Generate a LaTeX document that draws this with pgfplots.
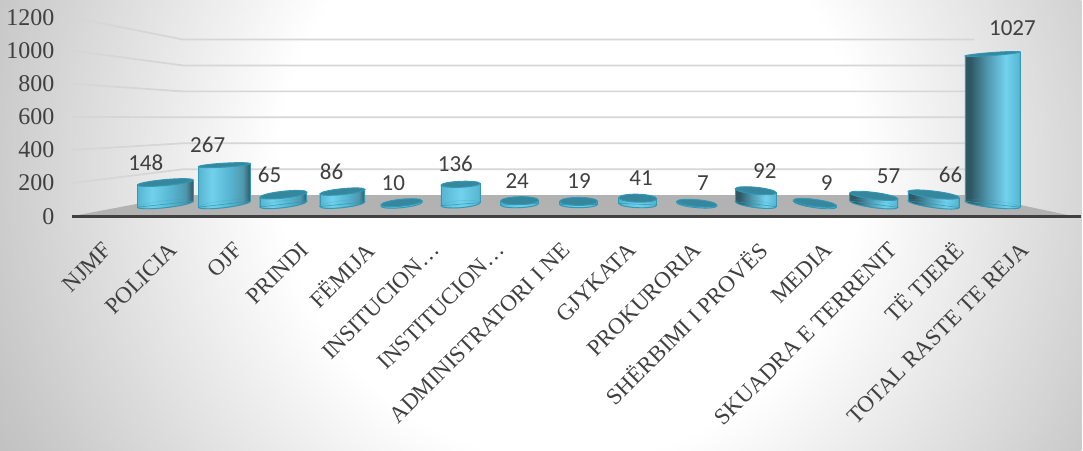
\documentclass[border=0pt]{standalone}
\usepackage{fontspec}
\setmainfont{Liberation Serif}
\newfontfamily\calibri{Carlito}
\usepackage{pgfplots}
\pgfplotsset{compat=1.18}

\definecolor{txt}{HTML}{404040}
\definecolor{cyledge}{HTML}{3298B4}
\definecolor{cyltop}{HTML}{36879E}
\definecolor{cylA}{HTML}{56B6D2}
\definecolor{cylB}{HTML}{72D2EE}
\definecolor{cylC}{HTML}{4F97AE}
\definecolor{cylD}{HTML}{2F5864}

\pgfdeclareradialshading{bgsh}{\pgfpoint{0bp}{0bp}}{color(0bp)=(white); color(10.4bp)=(white); color(15.4bp)=(black!10); color(21.4bp)=(black!22); color(25bp)=(black!28); color(50bp)=(black!28)}
\pgfdeclarehorizontalshading{cylL}{100bp}{color(0bp)=(cylA); color(25bp)=(cylA); color(38bp)=(cylB); color(55bp)=(cylA); color(68bp)=(cylC); color(75bp)=(cylD); color(100bp)=(cylD)}
\pgfdeclarehorizontalshading{cylM}{100bp}{color(0bp)=(cylA); color(25bp)=(cylA); color(50bp)=(cylB); color(75bp)=(cylA); color(100bp)=(cylA)}
\pgfdeclarehorizontalshading{cylR}{100bp}{color(0bp)=(cylD); color(30bp)=(cylD); color(45bp)=(cylC); color(62bp)=(cylB); color(75bp)=(cylA); color(100bp)=(cylA)}

% tilted ellipse: centre height, half width, half rise to the right, half height
\newcommand\tiltell[4]{%
  ({-(#2)},{(#1)-(#3)})
  .. controls ({-(#2)},{(#1)-(#3)+0.5523*(#4)}) and ({-0.5523*(#2)},{(#1)+(#4)-0.5523*(#3)}) .. (0,{(#1)+(#4)})
  .. controls ({0.5523*(#2)},{(#1)+(#4)+0.5523*(#3)}) and ({(#2)},{(#1)+(#3)+0.5523*(#4)}) .. ({(#2)},{(#1)+(#3)})
  .. controls ({(#2)},{(#1)+(#3)-0.5523*(#4)}) and ({0.5523*(#2)},{(#1)-(#4)+0.5523*(#3)}) .. (0,{(#1)-(#4)})
  .. controls ({-0.5523*(#2)},{(#1)-(#4)-0.5523*(#3)}) and ({-(#2)},{(#1)-(#3)-0.5523*(#4)}) .. cycle}

% one cylinder, drawn from its top centre; sizes in reference pixels
\pgfdeclareplotmark{cyl}{%
  \pgfmathsetmacro\hpx{-\cylv*0.1465}%
  \begin{scope}[x=0.75pt,y=0.75pt]
    \path[shade,shading=cyl\cylsh,draw=cyledge,line width=0.7pt] \tiltell{\hpx}{\cylw}{\cylbt}{3.5};
    \path[shade,shading=cyl\cylsh] ({-\cylw},{-(\cyltp)}) -- ({\cylw},{\cyltp}) -- ({\cylw},{\hpx+(\cylbt)}) -- ({-\cylw},{\hpx-(\cylbt)}) -- cycle;
    \draw[cyledge,line width=0.7pt] ({-\cylw},{-(\cyltp)}) -- ({-\cylw},{\hpx-(\cylbt)}) ({\cylw},{\cyltp}) -- ({\cylw},{\hpx+(\cylbt)});
    \draw[cyledge,opacity=0.25,line width=0.5pt] \tiltell{\hpx}{\cylw}{\cylbt}{3.5};
    \path[fill=cyltop,draw=cyledge,line width=0.7pt] \tiltell{0}{\cylw}{\cyltp}{\cyla};
  \end{scope}
}

\begin{document}
\begin{tikzpicture}
\begin{scope}[x=0.75pt,y=-0.75pt]
\clip (0,0) rectangle (1083,451);
\begin{pgfinterruptboundingbox}
\shade[shading=bgsh] (-130,-530) rectangle (1270,870);
\end{pgfinterruptboundingbox}
\end{scope}

% walls, floor and labels
\begin{axis}[
  at={(54pt,-162.4pt)},anchor=south west,
  scale only axis,width=758.25pt,height=149.25pt,
  xmin=-0.518,xmax=14.894,ymin=0,ymax=1200,
  clip=false,axis on top,
  axis x line=bottom,axis y line=left,
  x axis line style={-,draw=txt,line width=2.5pt},
  y axis line style={-,draw=none},
  tick style={draw=none},
  /pgf/number format/assume math mode=true,
  /pgf/number format/1000 sep={},
  ytick={0,200,...,1200},
  xtick={0,...,14},
  xticklabels={NJMF,POLICIA,OJF,PRINDI,FËMIJA,INSITUCION…,INSTITUCION…,ADMINISTRATORI I NE,GJYKATA,PROKURORIA,SHËRBIMI I PROVËS,MEDIA,SKUADRA E TERRENIT,TË TJERË,TOTAL RASTE TE REJA},
  xticklabel style={rotate=45,anchor=east,xshift=-10pt,yshift=-15.5pt,text=txt,font=\fontsize{17.25}{19}\selectfont},
  yticklabel style={anchor=east,xshift=-7.5pt,text=txt,font=\fontsize{18}{20}\selectfont},
]
\addplot[draw=none,fill=black!30] coordinates {(-0.518,0) (1.174,126.7) (13.262,126.7) (14.771,0)} -- cycle;
\addplot[black!16,line width=1.3pt] coordinates {(-0.518,200) (1.174,283.5) (13.262,283.5)};
\addplot[black!16,line width=1.3pt] coordinates {(-0.518,400) (1.174,440.3) (13.262,440.3)};
\addplot[black!16,line width=1.3pt] coordinates {(-0.518,600) (1.174,597.1) (13.262,597.1)};
\addplot[black!16,line width=1.3pt] coordinates {(-0.518,800) (1.174,753.9) (13.262,753.9)};
\addplot[black!16,line width=1.3pt] coordinates {(-0.518,1000) (1.174,910.7) (13.262,910.7)};
\addplot[black!16,line width=1.3pt] coordinates {(-0.518,1200) (1.174,1067.5) (13.262,1067.5)};
\end{axis}

% cylinders with their value labels, 0 at the middle of the bases
\begin{axis}[
  at={(0pt,-338.25pt)},anchor=south west,
  scale only axis,width=812.25pt,height=338.25pt,
  xmin=-2.79,xmax=15.523,ymin=-1682.6,ymax=1395.9,
  clip=false,hide axis,
  /pgf/number format/assume math mode=true,
  /pgf/number format/1000 sep={},
]
\addplot[scatter,only marks,mark=cyl,
  scatter/use mapped color={draw=cyledge,fill=cyledge},
  visualization depends on={value \thisrow{v}\as\cylv},
  visualization depends on={value \thisrow{w}\as\cylw},
  visualization depends on={value \thisrow{tp}\as\cyltp},
  visualization depends on={value \thisrow{bt}\as\cylbt},
  visualization depends on={value \thisrow{a}\as\cyla},
  visualization depends on={value \thisrow{s}\as\cylsh},
] table[x=i,y=v] {
i     v     w     tp    bt    a   s
0.01  148   28    2.5   3     3   L
1.01  267   26    1.5   3     2   L
2.01  65    23.5  2.5   2.8   3.5 L
3.01  86    22.5  2.2   2.4   3   L
4.01  10    20.5  2     2     3.5 M
5.01  136   19.5  0.8   1.5   3   M
6.01  24    19    0.4   0.8   4   M
7.01  19    19    0     0     4   M
8.01  41    19   -0.5  -0.8   4   M
9.01  7     20   -1.7  -1.7   3.5 M
10.01 92    20.5 -2    -2.5   3.5 R
11.01 9     21.5 -2.8  -3     3.5 R
12.01 57    24   -3    -3.2   3.5 R
13.02 66    25.5 -3    -3.4   3.5 R
14.02 1027  27.5  2    -3     1.5 R
};
\addplot[draw=none,mark=none,point meta=explicit,
  nodes near coords,
  every node near coord/.style={anchor=center,yshift=15pt,text=txt,font=\calibri\fontsize{17.25}{20}\selectfont},
] table[x=lx,y=ly,meta=v] {
lx      ly    v
-0.321  148   148
0.727   267   267
1.776   65    65
2.824   86    86
3.872   10    10
4.921   136   136
5.969   24    24
7.017   19    19
8.066   41    41
9.114   7     7
10.162  92    92
11.211  9     9
12.259  57    57
13.307  66    66
14.356  1068  1027
};
\end{axis}
\end{tikzpicture}
\end{document}
